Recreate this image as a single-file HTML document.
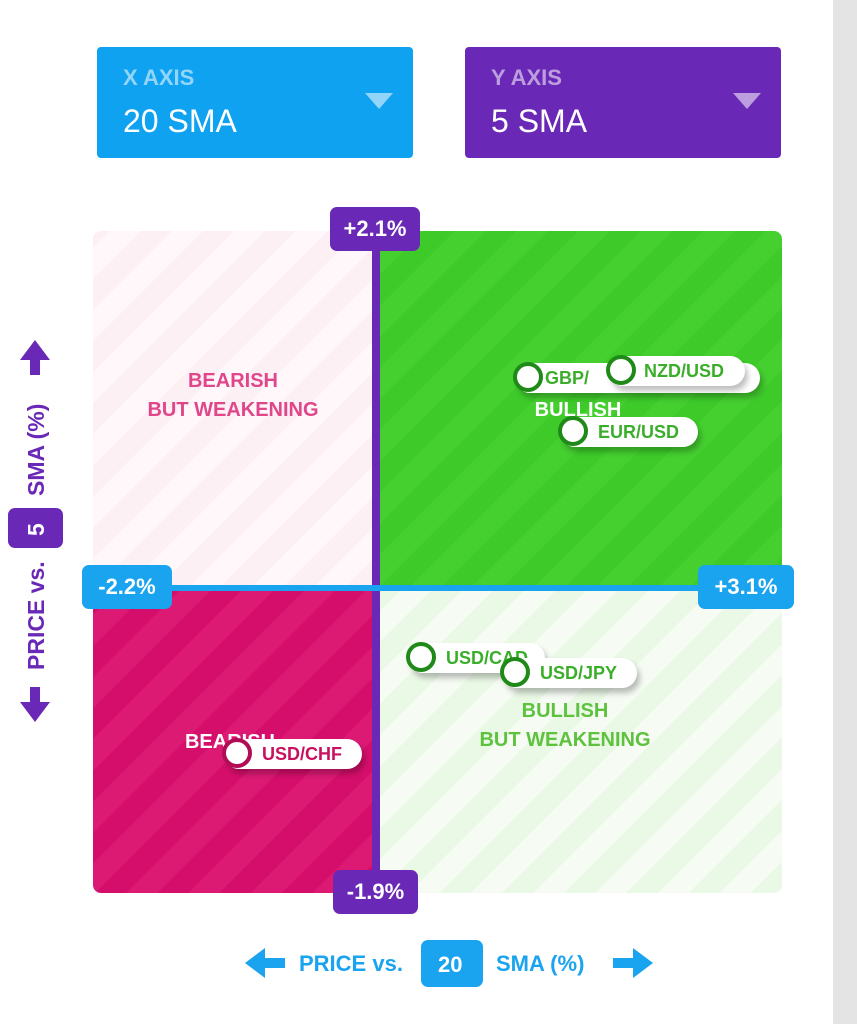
<!DOCTYPE html>
<html><head><meta charset="utf-8"><style>
*{margin:0;padding:0;box-sizing:border-box}
body{width:857px;height:1024px;background:#fff;position:relative;overflow:hidden;font-family:"Liberation Sans",sans-serif;font-weight:bold}
.a{position:absolute}
.strip{left:833px;top:0;width:24px;height:1024px;background:#e4e4e4}
.sel{border-radius:4px;color:#fff}
.sel .t{position:absolute;left:26px;top:18px;font-size:22px;opacity:.55}
.sel .v{position:absolute;left:26px;top:56px;font-size:32px;font-weight:normal}
.sel .tri{position:absolute;right:20px;top:46px;width:0;height:0;border-left:14px solid transparent;border-right:14px solid transparent;border-top:16px solid rgba(255,255,255,.55)}
.q{position:absolute}
.tag{position:absolute;color:#fff;font-size:22px;text-align:center;border-radius:7px;line-height:44px}
.pill{position:absolute;height:30px;background:#fff;border-radius:15px;box-shadow:3px 5px 6px rgba(0,0,0,.25);font-size:18px;color:#3aae2a;line-height:30px;padding-left:30px}
.pill i{position:absolute;left:-2px;top:-1px;width:30px;height:30px;border-radius:50%;background:#fff;border:4px solid #1f8a18}
.lab{position:absolute;font-size:20px;text-align:center;line-height:29px}
</style></head><body>
<div class="a strip"></div>
<div class="a sel" style="left:97px;top:47px;width:316px;height:111px;background:#0ea2f1"><div class="t">X AXIS</div><div class="v">20 SMA</div><div class="tri"></div></div>
<div class="a sel" style="left:465px;top:47px;width:316px;height:111px;background:#6a28b6"><div class="t">Y AXIS</div><div class="v">5 SMA</div><div class="tri"></div></div>

<div class="q" style="left:93px;top:231px;width:282px;height:357px;border-radius:8px 0 0 0;background:repeating-linear-gradient(-45deg,#fdf0f5 0 22px,#fff7fa 22px 44px)"></div>
<div class="q" style="left:375px;top:231px;width:407px;height:357px;border-radius:0 8px 0 0;background:repeating-linear-gradient(-45deg,#3ecb2a 0 22px,#45d030 22px 44px)"></div>
<div class="q" style="left:93px;top:588px;width:282px;height:305px;border-radius:0 0 0 8px;background:repeating-linear-gradient(-45deg,#d60e6b 0 22px,#dc1a74 22px 44px)"></div>
<div class="q" style="left:375px;top:588px;width:407px;height:305px;border-radius:0 0 8px 0;background:repeating-linear-gradient(-45deg,#eaf8e6 0 22px,#f6fcf4 22px 44px)"></div>

<div class="lab" style="left:133px;top:367px;width:200px;color:#e0468a">BEARISH<br>BUT WEAKENING</div>
<div class="lab" style="left:478px;top:396px;width:200px;color:#fff">BULLISH</div>
<div class="lab" style="left:465px;top:697px;width:200px;color:#5ec23f">BULLISH<br>BUT WEAKENING</div>
<div class="lab" style="left:170px;top:728px;width:120px;color:#fff">BEARISH</div>

<div class="a" style="left:372px;top:231px;width:8px;height:662px;background:#6a28b6"></div>
<div class="a" style="left:93px;top:585px;width:689px;height:6px;background:#1aa3ef"></div>

<div class="tag" style="left:330px;top:207px;width:90px;background:#6a28b6">+2.1%</div>
<div class="tag" style="left:333px;top:870px;width:85px;background:#6a28b6">-1.9%</div>
<div class="tag" style="left:82px;top:565px;width:90px;background:#1aa3ef">-2.2%</div>
<div class="tag" style="left:698px;top:565px;width:96px;background:#1aa3ef">+3.1%</div>

<div class="pill" style="left:515px;top:363px;width:245px"><i></i>GBP/</div>
<div class="pill" style="left:608px;top:356px;width:137px;padding-left:36px"><i></i>NZD/USD</div>
<div class="pill" style="left:560px;top:417px;width:138px;padding-left:38px"><i></i>EUR/USD</div>
<div class="pill" style="left:408px;top:643px;width:137px;padding-left:38px"><i></i>USD/CAD</div>
<div class="pill" style="left:502px;top:658px;width:135px;padding-left:38px"><i></i>USD/JPY</div>
<div class="pill" style="left:224px;top:739px;width:138px;padding-left:38px;color:#c8105f"><i style="border-color:#b00d55"></i>USD/CHF</div>

<svg class="a" style="left:0;top:330px" width="70" height="400">
<g fill="#6a28b6"><polygon points="35,10 50,30 40,30 40,45 30,45 30,30 20,30"/><polygon points="35,392 50,372 40,372 40,357 30,357 30,372 20,372"/>
<rect x="8" y="178" width="55" height="40" rx="7"/></g>
<g font-family="Liberation Sans" font-weight="bold" font-size="23" fill="#6a28b6">
<text transform="translate(44,166) rotate(-90)">SMA (%)</text>
<text transform="translate(44,340) rotate(-90)">PRICE vs.</text>
<text transform="translate(44,206) rotate(-90)" fill="#fff">5</text></g></svg>

<svg class="a" style="left:240px;top:935px" width="420" height="60">
<g fill="#1aa3ef"><polygon points="5,28 25,13 25,23 45,23 45,33 25,33 25,43"/><polygon points="413,28 393,13 393,23 373,23 373,33 393,33 393,43"/>
<rect x="181" y="5" width="62" height="47" rx="7"/></g>
<g font-family="Liberation Sans" font-weight="bold" font-size="22" fill="#1aa3ef">
<text x="59" y="36">PRICE vs.</text><text x="198" y="37" fill="#fff">20</text><text x="256" y="36">SMA (%)</text></g></svg>
</body></html>
